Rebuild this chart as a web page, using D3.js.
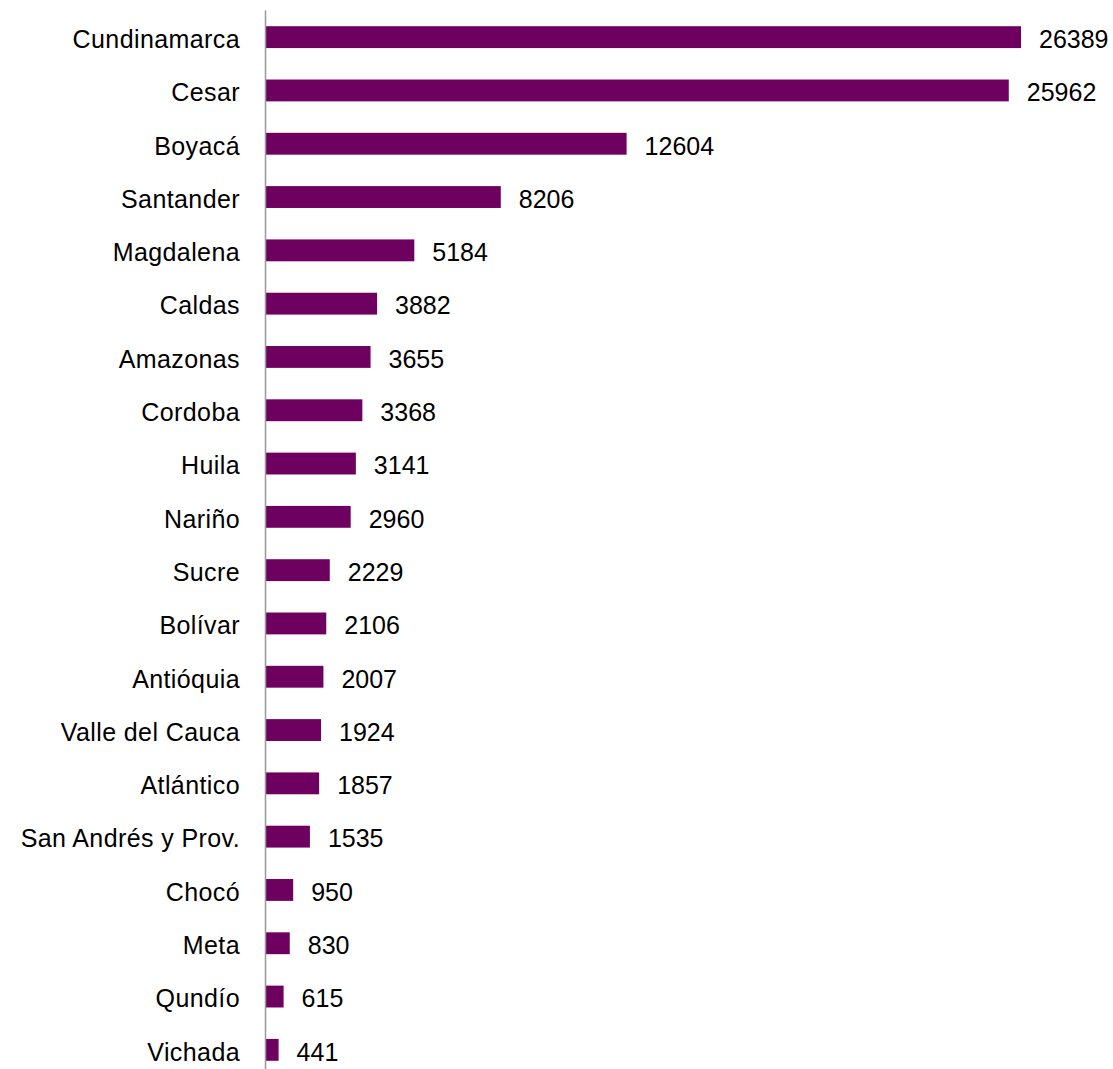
<html>

<head>
    <meta charset="utf-8">
    <title>Departamentos</title>
    <style>
        body { margin: 0; background: #fff; }
        svg { display: block; }
    </style>
</head>

<body>
    <script src="https://d3js.org/d3.v7.min.js" charset="utf-8"></script>
    <script>
        var departamentos = ["Cundinamarca", "Cesar", "Boyacá", "Santander", "Magdalena", "Caldas", "Amazonas",
            "Cordoba", "Huila", "Nariño", "Sucre", "Bolívar", "Antióquia", "Valle del Cauca", "Atlántico",
            "San Andrés y Prov.", "Chocó", "Meta", "Qundío", "Vichada"];
        var valores = [26389, 25962, 12604, 8206, 5184, 3882, 3655, 3368, 3141, 2960, 2229, 2106, 2007,
            1924, 1857, 1535, 950, 830, 615, 441];

        var width = 1113;
        var height = 1069;
        var x0 = 266;

        var svg = d3.select("body")
            .append("svg")
            .attr("width", width)
            .attr("height", height)

        var x = d3.scaleLinear()
            .domain([0, d3.max(valores)])
            .range([x0, 1021]);
        var y = d3.scaleBand()
            .domain(departamentos)
            .range([10.5, 1076.5])
            .paddingInner(0.59)
            .paddingOuter(0.295);

        var rows = svg.selectAll("g.row")
            .data(departamentos)
            .enter()
            .append("g")
            .attr("class", "row");

        rows.append("rect")
            .attr("x", x(0))
            .attr("y", function (d) { return y(d); })
            .attr("height", y.bandwidth())
            .attr("width", function (d, i) { return x(valores[i]) - x(0); })
            .attr("fill", "#6e0060");

        // etiquetas de categoria
        rows.append("text")
            .attr("x", 240)
            .attr("y", function (d) { return y(d) + y.bandwidth() / 2; })
            .attr("dy", "0.43em")
            .attr("text-anchor", "end")
            .attr("font-family", "Liberation Sans, Arial, sans-serif")
            .attr("font-size", 25)
            .attr("letter-spacing", 0.4)
            .attr("fill", "#000")
            .text(function (d) { return d; });

        // valores
        rows.append("text")
            .attr("x", function (d, i) { return x(valores[i]) + 18; })
            .attr("y", function (d) { return y(d) + y.bandwidth() / 2; })
            .attr("dy", "0.43em")
            .attr("font-family", "Liberation Sans, Arial, sans-serif")
            .attr("font-size", 25)
            .attr("fill", "#000")
            .text(function (d, i) { return valores[i]; });

        svg.append("line")
            .attr("x1", 265.5)
            .attr("x2", 265.5)
            .attr("y1", 10.5)
            .attr("y2", height)
            .attr("stroke", "#999")
            .attr("stroke-width", 1.5);
    </script>
</body>

</html>
